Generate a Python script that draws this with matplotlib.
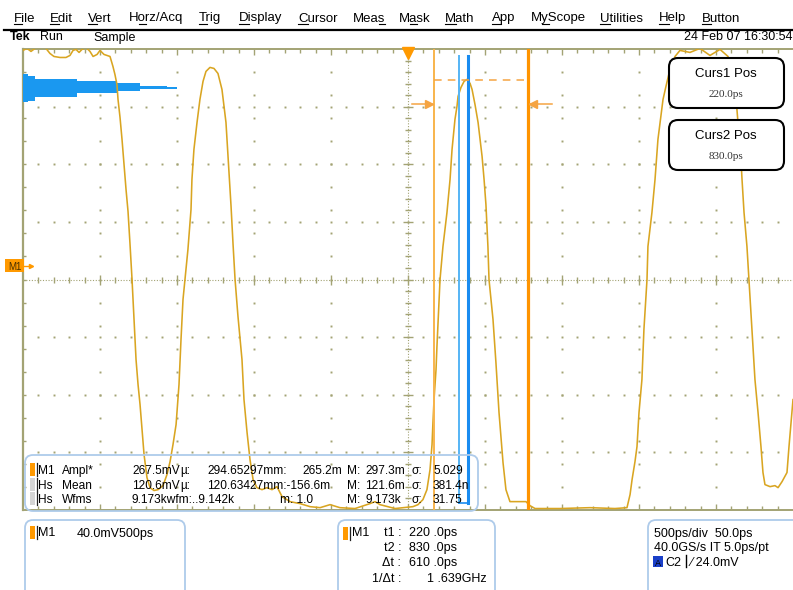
import matplotlib
matplotlib.use('Agg')
import matplotlib.pyplot as plt
from matplotlib.patches import FancyBboxPatch, Rectangle
from matplotlib.collections import LineCollection

plt.rcParams['font.family'] = ['Liberation Sans', 'DejaVu Sans']

# ---------------- data ----------------
time_per_div = 500.0      # ps / div
volt_per_div = 40.0       # mV / div
h_center = 50.0           # ps at screen centre
v_center = -9.72          # mV at screen centre (M1 offset)

wave_t = [-2450, -2424, -2398, -2372, -2340, -2301, -2275, -2249, -2210, -2171,
          -2145, -2125, -2106, -2086, -2067, -2041, -2015, -1995, -1969, -1950,
          -1924, -1885, -1866, -1853, -1840, -1833, -1820, -1807, -1794, -1781,
          -1768, -1755, -1742, -1729, -1716, -1703, -1690, -1677, -1664, -1645,
          -1625, -1599, -1573, -1541, -1515, -1495, -1476, -1456, -1437, -1424,
          -1411, -1398, -1379, -1359, -1353, -1340, -1320, -1301, -1281, -1262,
          -1236, -1210, -1184, -1158, -1132, -1112, -1099, -1086, -1073, -1054,
          -1028, -1015, -995, -976, -956, -931, -898, -866, -833, -801,
          -768, -716, -651, -586, -521, -456, -392, -294, -197, -164,
          -132, -34, 82, 115, 147, 173, 193, 206, 212, 219,
          232, 238, 258, 277, 303, 323, 336, 355, 368, 375,
          394, 414, 433, 453, 466, 485, 505, 531, 544, 556,
          569, 576, 589, 602, 621, 641, 667, 686, 712, 777,
          816, 842, 875, 1037, 1232, 1394, 1472, 1492, 1505, 1524,
          1537, 1550, 1569, 1582, 1602, 1608, 1634, 1654, 1673, 1706,
          1725, 1751, 1784, 1816, 1881, 1946, 2011, 2076, 2128, 2160,
          2186, 2212, 2219, 2232, 2251, 2264, 2277, 2290, 2303, 2323,
          2342, 2355, 2368, 2401, 2433, 2453, 2479, 2511, 2524, 2544, 2550]
wave_v = [149.3, 150.7, 148.6, 150.7, 151.4, 150.7, 147.2, 145.1, 144.4, 144.4,
          145.8, 149.3, 150.0, 147.9, 150.0, 151.4, 148.6, 145.1, 146.5, 149.3,
          146.5, 145.1, 138.2, 132.6, 125.7, 115.3, 102.8, 87.5, 70.1, 52.8,
          37.5, 14.6, -9.7, -37.5, -65.3, -82.6, -96.5, -113.9, -131.2, -147.2,
          -154.2, -156.2, -155.6, -152.8, -145.1, -136.1, -124.3, -110.4, -82.6, -51.4,
          -23.6, -9.7, 11.1, 38.9, 59.7, 80.6, 99.3, 115.3, 127.8, 134.7,
          137.5, 136.8, 133.3, 122.2, 99.3, 64.6, 41.0, 14.6, -9.7, -35.4,
          -65.3, -93.1, -116.0, -134.7, -148.6, -154.2, -155.6, -154.2, -155.6, -153.5,
          -160.4, -163.9, -165.3, -167.4, -168.1, -166.0, -168.1, -168.7, -165.3, -163.9,
          -166.0, -168.7, -167.4, -166.0, -162.5, -155.6, -141.7, -124.3, -109.0, -93.1,
          -72.2, -56.2, -9.7, 13.2, 36.8, 59.7, 80.6, 101.4, 110.4, 117.4,
          123.6, 127.8, 129.2, 126.4, 122.2, 111.8, 99.3, 75.7, 59.7, 42.4,
          13.2, -9.7, -23.6, -37.5, -67.4, -102.1, -136.8, -155.6, -163.9, -163.9,
          -163.9, -166.7, -168.7, -168.7, -168.1, -168.7, -168.1, -159.0, -148.6, -136.1,
          -125.7, -102.1, -79.2, -44.4, -9.7, 13.2, 36.8, 59.7, 87.5, 115.3,
          124.3, 136.1, 145.1, 149.3, 147.9, 150.7, 145.8, 150.0, 145.1, 132.6,
          108.3, 73.6, 59.7, 36.8, 13.2, -9.7, -32.6, -56.2, -79.2, -102.1,
          -125.7, -143.7, -152.1, -153.5, -152.8, -154.2, -150.0, -143.7, -125.7, -100.0, -93.1]

cursor_t1 = 220.0
cursor_t2 = 830.0
cursor_level = 128.5
cursor_mark_level = 111.8

hist_edges = [132.6, 131.2, 129.4, 127.8, 126.4, 124.9, 123.6, 122.2, 120.8, 119.4, 117.0, 113.9, 113.2]
hist_counts = [5, 12, 54, 94, 117, 144, 154, 117, 94, 54, 12, 5]
hist_box_t = [380.0, 440.0]
hist_box_v = [-164.6, 145.1]

menu_items = ['File', 'Edit', 'Vert', 'Horz/Acq', 'Trig', 'Display', 'Cursor', 'Meas',
              'Mask', 'Math', 'App', 'MyScope', 'Utilities', 'Help', 'Button']
menu_underline = [0, 0, 0, 1, 0, 0, 0, 3, 1, 0, 0, 1, 0, 0, 0]

meas_rows = [
    ('M1', 'Ampl*', ['267.5mV', 'µ:', '294.65297mm:', '265.2m', 'M:', '297.3m', 'σ:', '5.029']),
    ('Hs', 'Mean', ['120.6mV', 'µ:', '120.63427mm:-156.6m', '', 'M:', '121.6m', 'σ:', '381.4n']),
    ('Hs', 'Wfms', ['9.173kwfm:..9.142k', '', '', 'm: 1.0', 'M:', '9.173k', 'σ:', '31.75']),
]
cursor_labels = ['t1 :', 't2 :', 'Δt :', '1/Δt :']
cursor_values = ['220 .0ps', '830 .0ps', '610 .0ps', '1 .639GHz']

# ---------------- figure ----------------
W, H = 793, 590
fig = plt.figure(figsize=(W / 100, H / 100), dpi=100)
fig.patch.set_facecolor('white')

gx0, gx1, gy_top, gy_bot = 23, 793, 49, 510
ax = fig.add_axes([gx0 / W, (H - gy_bot) / H, (gx1 - gx0) / W, (gy_bot - gy_top) / H], zorder=1)
t_left = h_center - 5 * time_per_div
t_right = h_center + 5 * time_per_div
v_bot = v_center - 4 * volt_per_div
v_top = v_center + 4 * volt_per_div
ax.set_xlim(t_left, t_right)
ax.set_ylim(v_bot, v_top)
ax.axis('off')

px_t = time_per_div / 77.0
px_v = volt_per_div / 57.625
gc = '#a3a374'

# graticule dots
for i in range(1, 10):
    if i == 5:
        continue
    t = t_left + i * time_per_div
    vs = [v_center + 0.4 * volt_per_div * k for k in range(-10, 11)]
    vs = [v for v in vs if v_bot < v < v_top]
    ax.plot([t] * len(vs), vs, ls='none', marker='s', ms=1.4, mec='none', mfc=gc, zorder=1)
for j in range(1, 8):
    if j == 4:
        continue
    v = v_bot + j * volt_per_div
    ts = [t_left + 0.2 * time_per_div * k for k in range(1, 50)]
    ax.plot(ts, [v] * len(ts), ls='none', marker='s', ms=1.4, mec='none', mfc=gc, zorder=1)

segs = []
ax.plot([t_left, t_right], [v_center, v_center], color=gc, lw=0.8, ls=(0, (1, 1.5)), zorder=1)
ax.plot([h_center, h_center], [v_bot, v_top], color=gc, lw=0.8, ls=(0, (1, 1.5)), zorder=1)
for k in range(1, 50):
    t = t_left + 0.2 * time_per_div * k
    L = 5 if k % 5 == 0 else 3
    segs.append([(t, v_center - L * px_v), (t, v_center + L * px_v)])
    segs.append([(t, v_top), (t, v_top - (4 if k % 5 else 6) * px_v)])
    segs.append([(t, v_bot), (t, v_bot + (4 if k % 5 else 6) * px_v)])
for k in range(1, 40):
    v = v_bot + 0.2 * volt_per_div * k
    L = 5 if k % 5 == 0 else 3
    segs.append([(h_center - L * px_t, v), (h_center + L * px_t, v)])
for k in range(-10, 11):
    v = v_center + 0.4 * volt_per_div * k
    if v_bot < v < v_top:
        segs.append([(t_left, v), (t_left + 3 * px_t, v)])
ax.add_collection(LineCollection(segs, colors=gc, linewidths=1.0, zorder=1))
ax.plot([t_left, t_left], [v_bot, v_top], color=gc, lw=1.6, clip_on=False, zorder=2)
ax.plot([t_left, t_right], [v_top, v_top], color=gc, lw=1.4, clip_on=False, zorder=2)
ax.plot([t_left, t_right], [v_bot, v_bot], color=gc, lw=1.4, clip_on=False, zorder=2)

# histogram
for i, c in enumerate(hist_counts):
    top, bot = hist_edges[i], hist_edges[i + 1]
    ax.barh((top + bot) / 2, c * px_t, height=top - bot, left=t_left,
            color='#1a98f0', edgecolor='none', zorder=3)

# waveform
ax.plot(wave_t, wave_v, color='#d9a521', lw=1.15, zorder=4)

# histogram box
ax.plot([hist_box_t[0]] * 2, hist_box_v, color='#55b4f5', lw=1.4, zorder=5)
ax.plot([hist_box_t[1]] * 2, hist_box_v, color='#1a8cf0', lw=2.2, zorder=5)
ax.plot(hist_box_t, [hist_box_v[0]] * 2, color='#1a8cf0', lw=1.2, zorder=5)

# cursors
ax.axvline(cursor_t1, color='#f8b44c', lw=1.4, zorder=5)
ax.axvline(cursor_t2, color='#ff9400', lw=2.3, zorder=5)
ax.plot([cursor_t1, cursor_t2 - 4 * px_t], [cursor_level] * 2, color='#f5a442', lw=1.1,
        ls=(0, (5, 4)), zorder=5)
ax.plot([cursor_t1 - 22 * px_t, cursor_t1 - 2 * px_t], [cursor_mark_level] * 2, color='#f5a442', lw=1.1, zorder=5)
ax.plot([cursor_t1 - 5 * px_t], [cursor_mark_level], marker='>', ms=6, color='#f5a442', zorder=5)
ax.plot([cursor_t2 + 2 * px_t, cursor_t2 + 24 * px_t], [cursor_mark_level] * 2, color='#f5a442', lw=1.1, zorder=5)
ax.plot([cursor_t2 + 5 * px_t], [cursor_mark_level], marker='<', ms=6, color='#f5a442', zorder=5)
ax.plot([h_center], [v_top - 4 * px_v], marker='v', ms=8, color='#ff9900', clip_on=False, zorder=6)

# ---------------- overlay (pixel coordinates) ----------------
ao = fig.add_axes([0, 0, 1, 1], zorder=10)
ao.set_xlim(0, W)
ao.set_ylim(H, 0)
ao.axis('off')
ao.patch.set_alpha(0)
renderer = fig.canvas.get_renderer()


def twidth(s, **kw):
    t = ao.text(0, 0, s, **kw)
    bb = t.get_window_extent(renderer)
    t.remove()
    return bb.width


menu_x = [14, 50, 88, 129, 199, 239, 298, 353, 399, 445, 492, 531, 600, 659, 702]
mfs = 9.5
for x, s, k in zip(menu_x, menu_items, menu_underline):
    ao.text(x, 21.5, s, fontsize=mfs, va='baseline', ha='left', color='black')
    x0 = x + twidth(s[:k], fontsize=mfs) if k > 0 else x
    x1 = x + twidth(s[:k + 1], fontsize=mfs)
    ao.plot([x0, x1], [23.5, 23.5], color='black', lw=0.8)
ao.plot([4, W], [30, 30], color='black', lw=1.6)

ao.text(10, 40.5, 'Tek', fontsize=9, fontweight='bold', va='baseline')
ao.text(40, 40.5, 'Run', fontsize=9, va='baseline')
ao.text(93, 40.5, 'Sample', fontsize=9, va='baseline')
ao.text(792, 40.5, '24 Feb 07 16:30:54', fontsize=9, va='baseline', ha='right')

ao.add_patch(Rectangle((5, 259), 19, 13, facecolor='#ff9900', edgecolor='none'))
ao.text(14.5, 269.5, 'M1', fontsize=7, va='baseline', ha='center', color='#4a3000')
ao.plot([24, 31], [266, 266], color='#ff9900', lw=1)
ao.plot([31], [266], marker='>', ms=3, color='#ff9900')

for (y0, lab, val) in [(58, 'Curs1 Pos', '220.0ps'), (120, 'Curs2 Pos', '830.0ps')]:
    ao.add_patch(FancyBboxPatch((669, y0), 115, 50, boxstyle='round,pad=0,rounding_size=9',
                                facecolor='white', edgecolor='black', lw=1.5))
    ao.text(726, y0 + 19, lab, fontsize=9.5, ha='center', va='baseline')
    ao.text(726, y0 + 39, val, fontsize=8, ha='center', va='baseline',
            family=['Liberation Serif', 'DejaVu Serif'], color='#333333')

box_col = '#aecbea'
ao.add_patch(FancyBboxPatch((25, 455), 453, 56, boxstyle='round,pad=0,rounding_size=8',
                            facecolor='none', edgecolor=box_col, lw=1.3))
row_base = [474, 489, 503]
row_marker = ['#ff9900', '#d4d4d4', '#d4d4d4']
col_x = [132, 180, 207, 302, 347, 365, 412, 433]
mfs2 = 8.6
for (name, kind, vals), yb, mc in zip(meas_rows, row_base, row_marker):
    ao.add_patch(Rectangle((30, yb - 11), 5, 13, facecolor=mc, edgecolor='none'))
    ao.plot([36.5, 36.5], [yb - 11, yb + 2], color='#222222', lw=0.9)
    ao.text(38, yb, name, fontsize=mfs2, va='baseline')
    ao.text(62, yb, kind, fontsize=mfs2, va='baseline')
    for cx, s in zip(col_x, vals):
        if s:
            if s.startswith('m:'):
                cx = 280
            ao.text(cx, yb, s, fontsize=mfs2, va='baseline')

mfs3 = 9
for (x0, w) in [(25, 160), (338, 157), (648, 160)]:
    ao.add_patch(FancyBboxPatch((x0, 520), w, 80, boxstyle='round,pad=0,rounding_size=8',
                                facecolor='none', edgecolor=box_col, lw=1.3, clip_on=False))
ao.add_patch(Rectangle((30, 526), 5, 13, facecolor='#ff9900', edgecolor='none'))
ao.plot([36.5, 36.5], [526, 539], color='#222222', lw=0.9)
ao.text(38, 536.5, 'M1', fontsize=mfs3, va='baseline')
ao.text(77, 536.5, '40.0mV500ps', fontsize=mfs3, va='baseline')
ao.add_patch(Rectangle((343, 527), 5, 13, facecolor='#ff9900', edgecolor='none'))
ao.plot([349.5, 349.5], [527, 540], color='#222222', lw=0.9)
ao.text(352, 536, 'M1', fontsize=mfs3, va='baseline')
for i, (lab, val) in enumerate(zip(cursor_labels, cursor_values)):
    yb = 536 + i * 15.2
    ao.text(401, yb, lab, fontsize=mfs3, va='baseline', ha='right')
    if i < 3:
        ao.text(409, yb, val, fontsize=mfs3, va='baseline', ha='left')
    else:
        ao.text(487, yb, val, fontsize=mfs3, va='baseline', ha='right')
ao.text(654, 536.5, '500ps/div  50.0ps', fontsize=mfs3, va='baseline')
ao.text(654, 550.7, '40.0GS/s IT 5.0ps/pt', fontsize=mfs3, va='baseline')
ao.add_patch(Rectangle((653, 556), 10, 11, facecolor='#1a3fc8', edgecolor='none'))
ao.text(658, 565.5, 'A', fontsize=6.5, va='baseline', ha='center', color='black')
ao.text(665, 566, 'C2', fontsize=mfs3, va='baseline')
ao.plot([686, 686], [555, 567], color='black', lw=1.0)
ao.text(691, 566, '⁄ 24.0mV', fontsize=mfs3, va='baseline',
        family=['Liberation Sans', 'DejaVu Sans'])

fig.savefig('out.png', dpi=100, facecolor='white')
